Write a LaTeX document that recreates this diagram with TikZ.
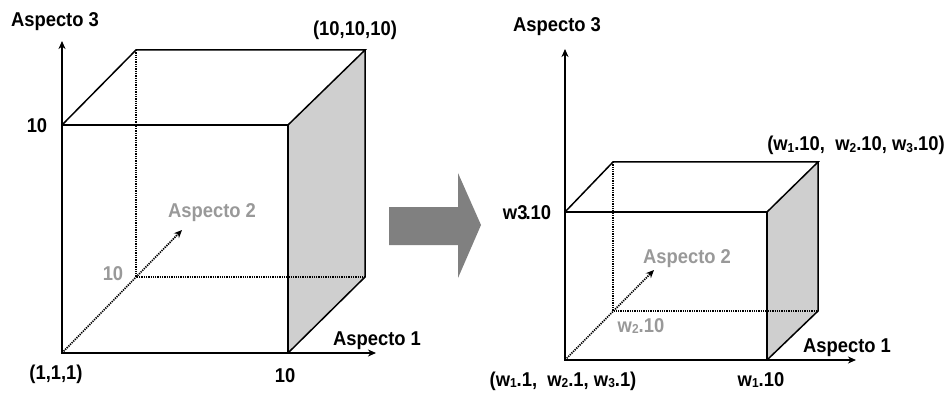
\documentclass[tikz,border=0pt]{standalone}
\usepackage{fontspec}
\setmainfont{Liberation Sans}[FakeStretch=0.92]
\usetikzlibrary{arrows.meta}
\newcommand{\wsub}[1]{\raisebox{-1.5pt}{\fontsize{13}{13}\selectfont #1}}
\begin{document}
\begin{tikzpicture}[x=1pt,y=-1pt,
edge/.style={line width=1.5pt,line join=miter},
hidden/.style={line width=1.7pt,dash pattern=on 1.3pt off 1pt},
axis/.style={line width=1.6pt,-{Stealth[length=8pt,width=7pt,inset=2.5pt]}},
face/.style={fill=black!19},
lbl/.style={anchor=base,inner sep=0pt,font=\fontsize{20}{22}\selectfont\bfseries},
dim/.style={lbl,text=black!40},]
\useasboundingbox (0,0) rectangle (948,393);
% left cube
\coordinate (A) at (62,353);
\coordinate (B) at (288,353);
\coordinate (C) at (288,125);
\coordinate (D) at (62,125);
\coordinate (E) at (136,277);
\coordinate (F) at (365,277);
\coordinate (G) at (365,50);
\coordinate (H) at (136,50);
\coordinate (ax1) at (376,353);
\coordinate (ax2) at (182,230);
\coordinate (ax3) at (62,41);
\fill[face] (B) -- (C) -- (G) -- (F) -- cycle;
\draw[edge] (A) -- (B) -- (C) -- (D) -- cycle;
\draw[edge] (D) -- (H) -- (G) -- (C);
\draw[edge] (G) -- (F) -- (B);
\draw[hidden] (H) -- (E) -- (F);
\draw[hidden,axis,line width=1.7pt] (A) -- (ax2);
\draw[axis] (D) -- (ax3);
\draw[axis] (B) -- (ax1);
\node[lbl] (l3) at (55,27) {Aspecto 3};
\node[lbl] (lmax) at (355,36) {(10,10,10)};
\node[lbl] (l3v) at (37,133) {10};
\node[dim] (l2) at (212,217) {Aspecto 2};
\node[dim] (l2v) at (113,280) {10};
\node[lbl] (l1) at (377,345) {Aspecto 1};
\node[lbl] (lmin) at (56,379) {(1,1,1)};
\node[lbl] (l1v) at (285,382) {10};
% arrow between
\fill[black!50] (389,207) -- (458,207) -- (458,173) -- (481,225)
  -- (458,278) -- (458,245) -- (389,245) -- cycle;
% right cube
\coordinate (a) at (565,360);
\coordinate (b) at (767,360);
\coordinate (c) at (767,212);
\coordinate (d) at (565,212);
\coordinate (e) at (613,311);
\coordinate (f) at (818,311);
\coordinate (g) at (818,162);
\coordinate (h) at (613,162);
\coordinate (bx1) at (856,360);
\coordinate (bx2) at (654,270);
\coordinate (bx3) at (565,49);
\fill[face] (b) -- (c) -- (g) -- (f) -- cycle;
\draw[edge] (a) -- (b) -- (c) -- (d) -- cycle;
\draw[edge] (d) -- (h) -- (g) -- (c);
\draw[edge] (g) -- (f) -- (b);
\draw[hidden] (h) -- (e) -- (f);
\draw[hidden,axis,line width=1.7pt] (a) -- (bx2);
\draw[axis] (d) -- (bx3);
\draw[axis] (b) -- (bx1);
\node[lbl] (r3) at (557,32) {Aspecto 3};
\node[lbl] (rmax) at (856,151) {(w\wsub{1}.10,\ \ w\wsub{2}.10, w\wsub{3}.10)};
\node[lbl] (r3v) at (527,219) {w3\kern-2pt.10};
\node[dim] (r2) at (687,263) {Aspecto 2};
\node[dim] (r2v) at (641,332) {w\wsub{2}.10};
\node[lbl] (r1) at (847,352) {Aspecto 1};
\node[lbl] (rmin) at (563,386) {(w\wsub{1}.1,\ \ w\wsub{2}.1, w\wsub{3}.1)};
\node[lbl] (r1v) at (761,386) {w\wsub{1}.10};
\end{tikzpicture}
\end{document}
